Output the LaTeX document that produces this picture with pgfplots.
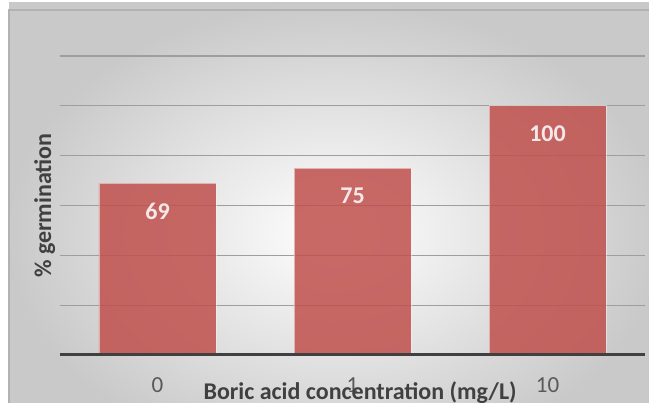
\documentclass[border=0pt]{standalone}
\usepackage{pgfplots}
\pgfplotsset{compat=1.18}
\usepackage{fontspec}
\setmainfont{Carlito}
\definecolor{barred}{HTML}{C0504D}
\definecolor{txtgray}{HTML}{595959}
\definecolor{lblgray}{HTML}{404040}
\begin{document}
\begin{tikzpicture}[x=1pt,y=1pt]
\useasboundingbox (0,0) rectangle (649,403);
\begin{scope}
\clip (0,0) rectangle (649,403);
\fill[white] (0,0) rectangle (649,403);
\shade[inner color=white, outer color=black!21] (9,-60) rectangle (660,400);
\draw[black!30, line width=1.5pt] (9,0) -- (9,393) -- (649,393);
\end{scope}
\begin{axis}[
  at={(60pt,48pt)}, anchor=south west,
  scale only axis, width=585pt, height=299pt,
  xmin=-0.5, xmax=2.5, ymin=0, ymax=120,
  ytick={20,40,60,80,100,120}, yticklabels={},
  xtick={0,1,2}, xticklabels={0,1,10},
  major tick length=0pt,
  axis line style={draw=none},
  ymajorgrids, grid style={color=black!38, line width=1.2pt},
  ybar, bar width=0.6,
  /pgf/number format/assume math mode=true,
  xticklabel style={anchor=center, yshift=-30pt, font=\fontsize{23}{27}\selectfont, text=txtgray},
  xlabel={Boric acid concentration (mg/L)},
  xlabel style={at={(axis description cs:0.513,-0.127)}, anchor=center, font=\fontsize{24}{28}\selectfont\bfseries, text=lblgray},
  ylabel={\% germination},
  ylabel style={at={(axis description cs:-0.026,0.5)}, anchor=center, font=\fontsize{24}{28}\selectfont\bfseries, text=lblgray},
  nodes near coords,
  nodes near coords style={anchor=center, yshift=-28pt, text=white, font=\fontsize{24}{28}\selectfont\bfseries},
  clip=false,
]
\addplot[fill=barred, fill opacity=0.85, draw=white, draw opacity=0.5, line width=0.8pt] coordinates {(0,69) (1,75) (2,100)};
\draw[color=black!75, line width=3pt] (axis cs:-0.5,0) -- (axis cs:2.5,0);
\end{axis}
\end{tikzpicture}
\end{document}
